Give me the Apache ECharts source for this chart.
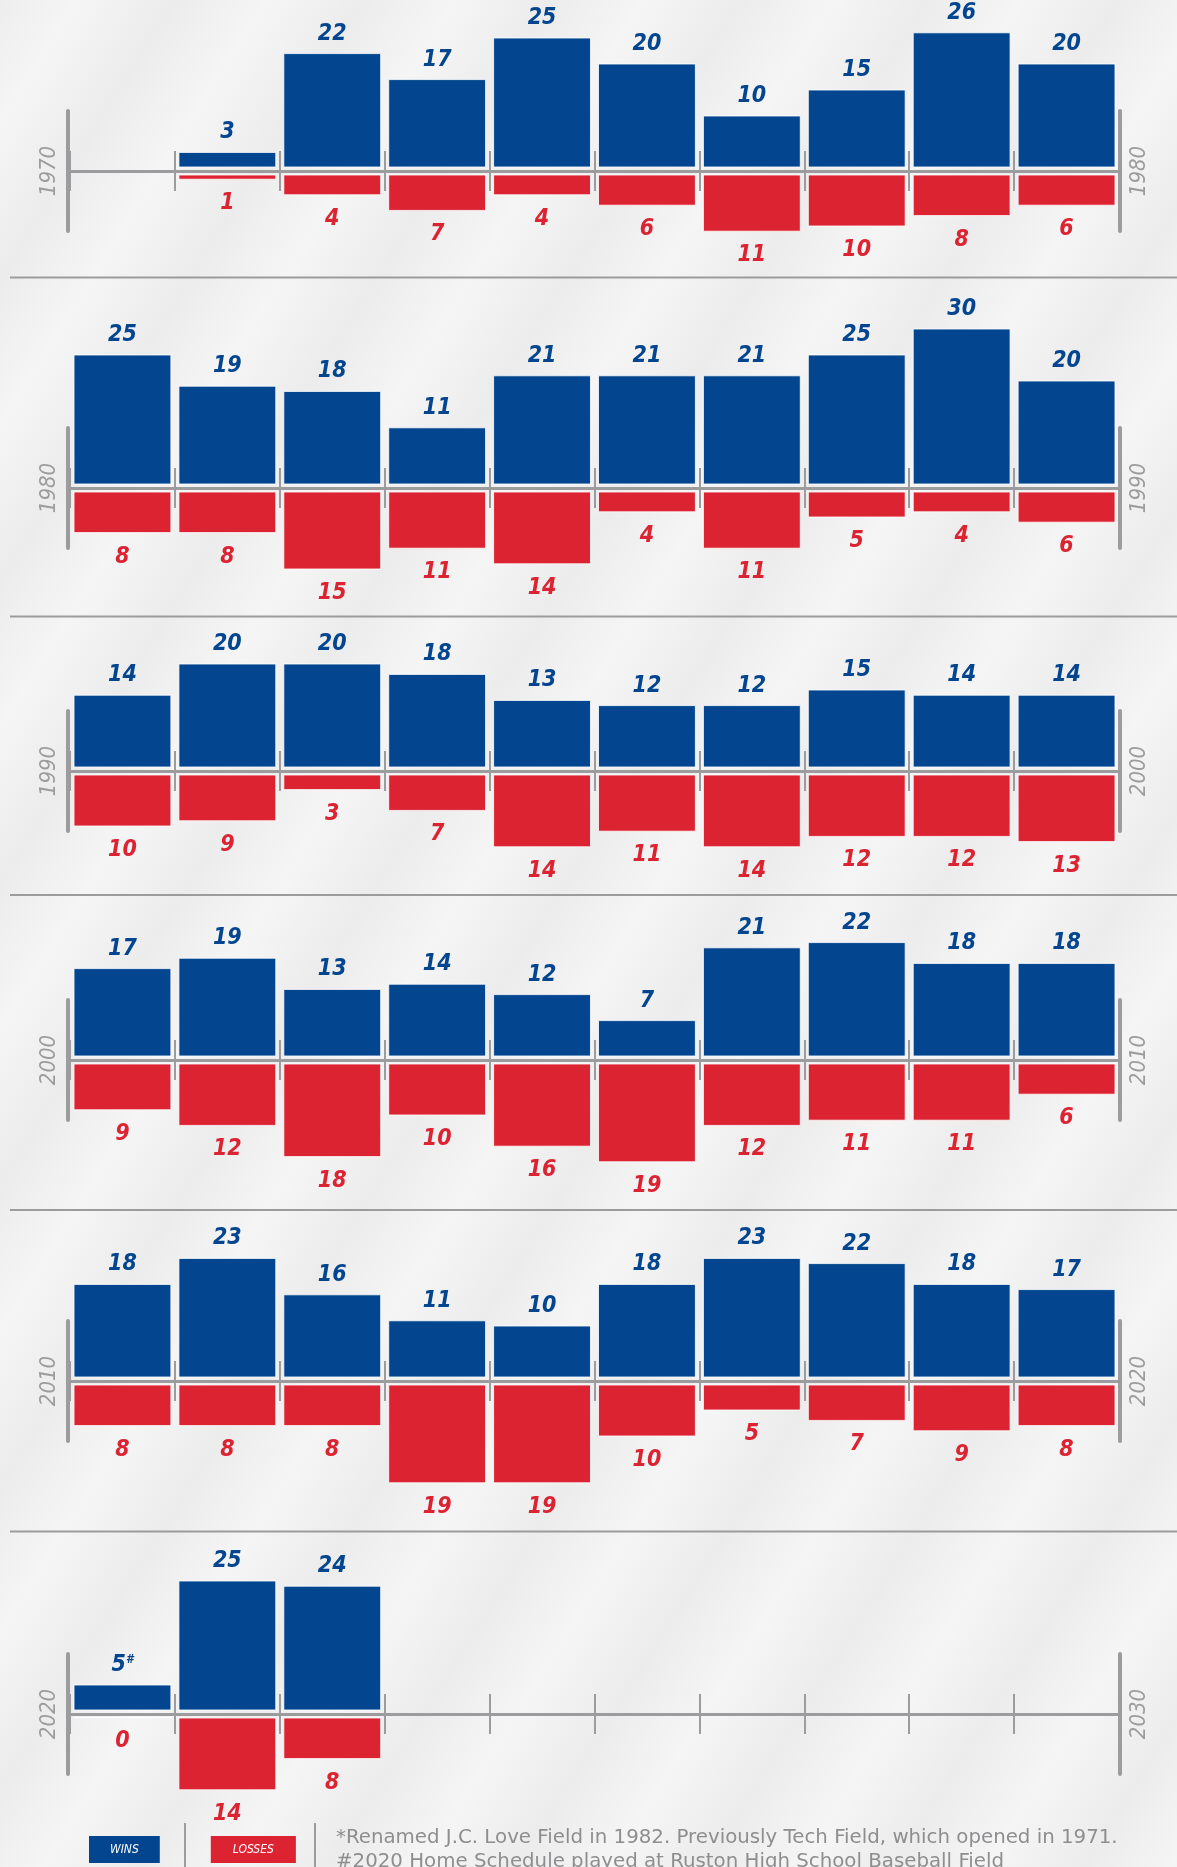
<!DOCTYPE html>
<html lang="en">
<head>
    <meta charset="UTF-8">
    <title>Wins and losses by season</title>
    <script src="https://cdn.jsdelivr.net/npm/echarts@6/dist/echarts.min.js"></script>
    <style>
        body { margin: 0; }
        #main {
            width: 1177px; height: 1867px;
            background-color: #f0f0f0;
            background-image: repeating-linear-gradient(-58deg, #f5f5f5 0px, #ececec 80px, #f5f5f5 160px);
        }
    </style>
</head>
<body>
<div id="main"></div>
<script>
    // seasons per decade row
    let decadeStart = [1970, 1980, 1990, 2000, 2010, 2020];
    let wins70 = [null, 3, 22, 17, 25, 20, 10, 15, 26, 20];
    let losses70 = [null, 1, 4, 7, 4, 6, 11, 10, 8, 6];
    let wins80 = [25, 19, 18, 11, 21, 21, 21, 25, 30, 20];
    let losses80 = [8, 8, 15, 11, 14, 4, 11, 5, 4, 6];
    let wins90 = [14, 20, 20, 18, 13, 12, 12, 15, 14, 14];
    let losses90 = [10, 9, 3, 7, 14, 11, 14, 12, 12, 13];
    let wins00 = [17, 19, 13, 14, 12, 7, 21, 22, 18, 18];
    let losses00 = [9, 12, 18, 10, 16, 19, 12, 11, 11, 6];
    let wins10 = [18, 23, 16, 11, 10, 18, 23, 22, 18, 17];
    let losses10 = [8, 8, 8, 19, 19, 10, 5, 7, 9, 8];
    let wins20 = [5, 25, 24];
    let losses20 = [0, 14, 8];
    let winsNote20 = ['#', '', ''];

    let winsRows = [wins70, wins80, wins90, wins00, wins10, wins20];
    let lossesRows = [losses70, losses80, losses90, losses00, losses10, losses20];
    let notesRows = [[], [], [], [], [], winsNote20];

    const BLUE = '#03468f';
    const RED = '#dc2332';
    const GRAY = '#9c9c9e';
    const NUM_FONT = "'Liberation Sans Narrow', 'DejaVu Sans Condensed', sans-serif";

    // layout
    const K = 5.2;              // px per game
    const GAP = 3.5 / K;        // space between bar and axis line
    const axisY = [171, 488, 771, 1060, 1381, 1714];
    const sepY = [277.5, 616.5, 895, 1210, 1531.5];

    let grid = [], xAxis = [], yAxis = [], series = [];

    decadeStart.forEach(function (start, i) {
        let years = [];
        for (let k = 0; k < 10; k++) years.push(String(start + k));
        let y0 = axisY[i];
        let g = grid.length;

        grid.push({left: 70, right: 58, top: y0 - 32 * K, height: 56 * K});   // bars
        grid.push({left: 68, right: 57, top: y0 - 60, height: 120});           // end posts
        grid.push({left: 70, right: 58, top: y0 - 20, height: 40});            // season ticks

        let xa = xAxis.length;
        xAxis.push({
            type: 'category', gridIndex: g, data: years,
            axisLine: {onZero: true, lineStyle: {color: GRAY, width: 3}},
            axisTick: {show: false}, axisLabel: {show: false}, splitLine: {show: false}
        });
        xAxis.push({type: 'value', gridIndex: g + 1, show: false});
        xAxis.push({
            type: 'category', gridIndex: g + 2, data: years,
            axisLine: {show: false}, axisTick: {show: false}, axisLabel: {show: false},
            splitLine: {show: true, interval: 0, lineStyle: {color: GRAY, width: 2}}
        });

        let ya = yAxis.length;
        yAxis.push({type: 'value', gridIndex: g, min: -24, max: 32, show: false});
        let frameAxis = function (pos, name) {
            return {
                type: 'value', gridIndex: g + 1, position: pos, min: -1, max: 1,
                axisLine: {show: true, onZero: false, lineStyle: {color: GRAY, width: 4}},
                axisTick: {show: false}, axisLabel: {show: false}, splitLine: {show: false},
                name: name, nameLocation: 'middle', nameRotate: 90, nameGap: 8,
                nameTextStyle: {color: GRAY, fontSize: 22, fontStyle: 'italic', fontFamily: NUM_FONT}
            };
        };
        yAxis.push(frameAxis('left', String(start)));
        yAxis.push(frameAxis('right', String(start + 10)));
        yAxis.push({type: 'value', gridIndex: g + 2, min: 0, max: 1, show: false});

        let wins = winsRows[i], losses = lossesRows[i], notes = notesRows[i];
        let common = {
            type: 'bar', stack: 'row' + i, xAxisIndex: xa, yAxisIndex: ya,
            barCategoryGap: '6.7%'
        };
        series.push(Object.assign({}, common, {
            name: 'gap', silent: true, itemStyle: {color: 'rgba(0,0,0,0)'},
            data: wins.map(v => v == null ? null : GAP)
        }));
        series.push(Object.assign({}, common, {
            name: 'WINS', data: wins,
            itemStyle: {color: BLUE, borderColor: 'rgba(255,255,255,0.8)', borderWidth: 1},
            label: {
                show: true, position: 'top', distance: 8,
                formatter: p => p.value == null ? '' : (notes[p.dataIndex] ? '{v|' + p.value + '}{s|' + notes[p.dataIndex] + '}' : '{v|' + p.value + '}'),
                rich: {
                    v: {color: BLUE, fontSize: 23, fontWeight: 'bold', fontStyle: 'italic', fontFamily: NUM_FONT},
                    s: {color: BLUE, fontSize: 12, fontWeight: 'bold', fontStyle: 'italic', fontFamily: NUM_FONT, verticalAlign: 'top'}
                }
            }
        }));
        series.push(Object.assign({}, common, {
            name: 'gap', silent: true, itemStyle: {color: 'rgba(0,0,0,0)'},
            data: losses.map(v => v == null ? null : -GAP)
        }));
        series.push(Object.assign({}, common, {
            name: 'LOSSES', data: losses.map(v => v == null ? null : -v),
            itemStyle: {color: RED, borderColor: 'rgba(255,255,255,0.8)', borderWidth: 1},
            label: {
                show: true, position: 'bottom', distance: 12,
                formatter: p => p.value == null ? '' : String(Math.abs(p.value)),
                color: RED, fontSize: 23, fontWeight: 'bold', fontStyle: 'italic', fontFamily: NUM_FONT
            }
        }));
    });

    let graphic = sepY.map(y => ({
        type: 'line', shape: {x1: 10, y1: y, x2: 1177, y2: y},
        style: {stroke: GRAY, lineWidth: 2}
    }));
    graphic.push({type: 'line', shape: {x1: 185, y1: 1823, x2: 185, y2: 1867}, style: {stroke: GRAY, lineWidth: 2}});
    graphic.push({type: 'line', shape: {x1: 315, y1: 1823, x2: 315, y2: 1867}, style: {stroke: GRAY, lineWidth: 2}});

    let myChart = echarts.init(document.getElementById('main'));
    let option = {
        animation: false,
        grid: grid,
        xAxis: xAxis,
        yAxis: yAxis,
        series: series,
        graphic: graphic,
        title: {
            left: 336, top: 1826, padding: 0,
            text: '*Renamed J.C. Love Field in 1982. Previously Tech Field, which opened in 1971.\n#2020 Home Schedule played at Ruston High School Baseball Field',
            textStyle: {color: '#8e8e90', fontSize: 19.8, fontWeight: 'normal', lineHeight: 24, fontFamily: "'DejaVu Sans', sans-serif"}
        },
        legend: {
            left: 84, top: 1836, padding: 0, itemWidth: 0, itemHeight: 0, itemGap: 46,
            icon: 'none', selectedMode: false,
            data: [
                {name: 'WINS', textStyle: {backgroundColor: BLUE, padding: [0, 21]}},
                {name: 'LOSSES', textStyle: {backgroundColor: RED, padding: [0, 22]}}
            ],
            textStyle: {
                color: '#ffffff', fontSize: 12, fontStyle: 'italic', fontFamily: NUM_FONT,
                height: 27, lineHeight: 27
            }
        }
    };
    myChart.setOption(option);
</script>
</body>
</html>
